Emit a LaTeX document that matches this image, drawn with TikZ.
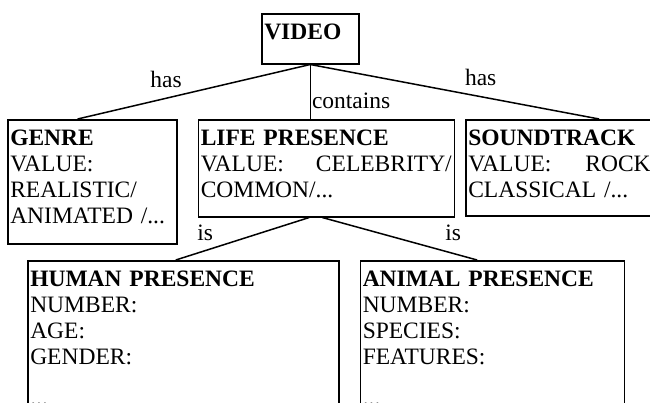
\documentclass[tikz,border=0pt]{standalone}
\usepackage{fontspec}
\setmainfont{Liberation Serif}
\usetikzlibrary{calc,
positioning}

\begin{document}
\begin{tikzpicture} [x=1pt, y=-1pt,
  line width=1.5pt,
  font=\fontsize{23.5pt}{26pt}\selectfont,
  box/.style={draw, anchor=north west, align=left,
      inner xsep=2.5pt, inner ysep=0pt, text height=26pt},
  lbl/.style={inner sep=1pt}]

  \useasboundingbox (0,0) rectangle (650,402);
  \clip (0,0) rectangle (650,402);

  \node [box, text width=92pt, text depth=24pt] (video) at (261,13) {\textbf{VIDEO}};

  \node [box, text width=164pt, text depth=98pt] (genre) at (7,119)
  {\textbf{GENRE}\\VALUE:\\REALISTIC/\\ANIMATED /...};

  \node [box,
    text width=251pt, text depth=71pt,
    right = 20pt of genre.north east, anchor=north west
  ] (life) {\textbf{LIFE PRESENCE}\\VALUE:\hfill CELEBRITY/\hspace*{6pt}\\COMMON/...};

  \node [box,
    text width=189pt, text depth=70pt,
    right = 10pt of life.north east, anchor=north west
  ] (sound) {\textbf{SOUNDTRACK}\\VALUE:\hfill ROCK/\\CLASSICAL /...};

  \node [box, text width=306pt, text depth=200pt] (human) at (27,260)
  {\textbf{HUMAN PRESENCE}\\NUMBER:\\AGE:\\GENDER:\\[15pt]...};

  \node [box,
    text width=259pt, text depth=200pt,
    right = 20pt of human.north east, anchor=north west
  ] (animal) {\textbf{ANIMAL PRESENCE}\\NUMBER:\\SPECIES:\\FEATURES:\\[15pt]...};

  % links from the video
  \draw (video.south) -- ($(genre.north west)!.414!(genre.north east)$)
  node [pos=.62, above = 9pt, lbl] {has};
  \draw (video.south) -- ($(sound.north west)!.686!(sound.north east)$)
  node [pos=.59, above = 9pt, lbl] {has};
  \draw (video.south) -- (video.south |- life.north)
  node [pos=.84, anchor=south west, lbl] {contains};

  % life presence
  \draw ($(life.south) + (-17, 0)$) -- ($(human.north west)!.476!(human.north east)$)
  node [pos=.78, above = 8pt, lbl] {is};
  \draw ($(life.south) + (-4, 0)$) -- ($(animal.north west)!.443!(animal.north east)$)
  node [pos=.845, above = 11pt, lbl] {is};

\end{tikzpicture}
\end{document}
